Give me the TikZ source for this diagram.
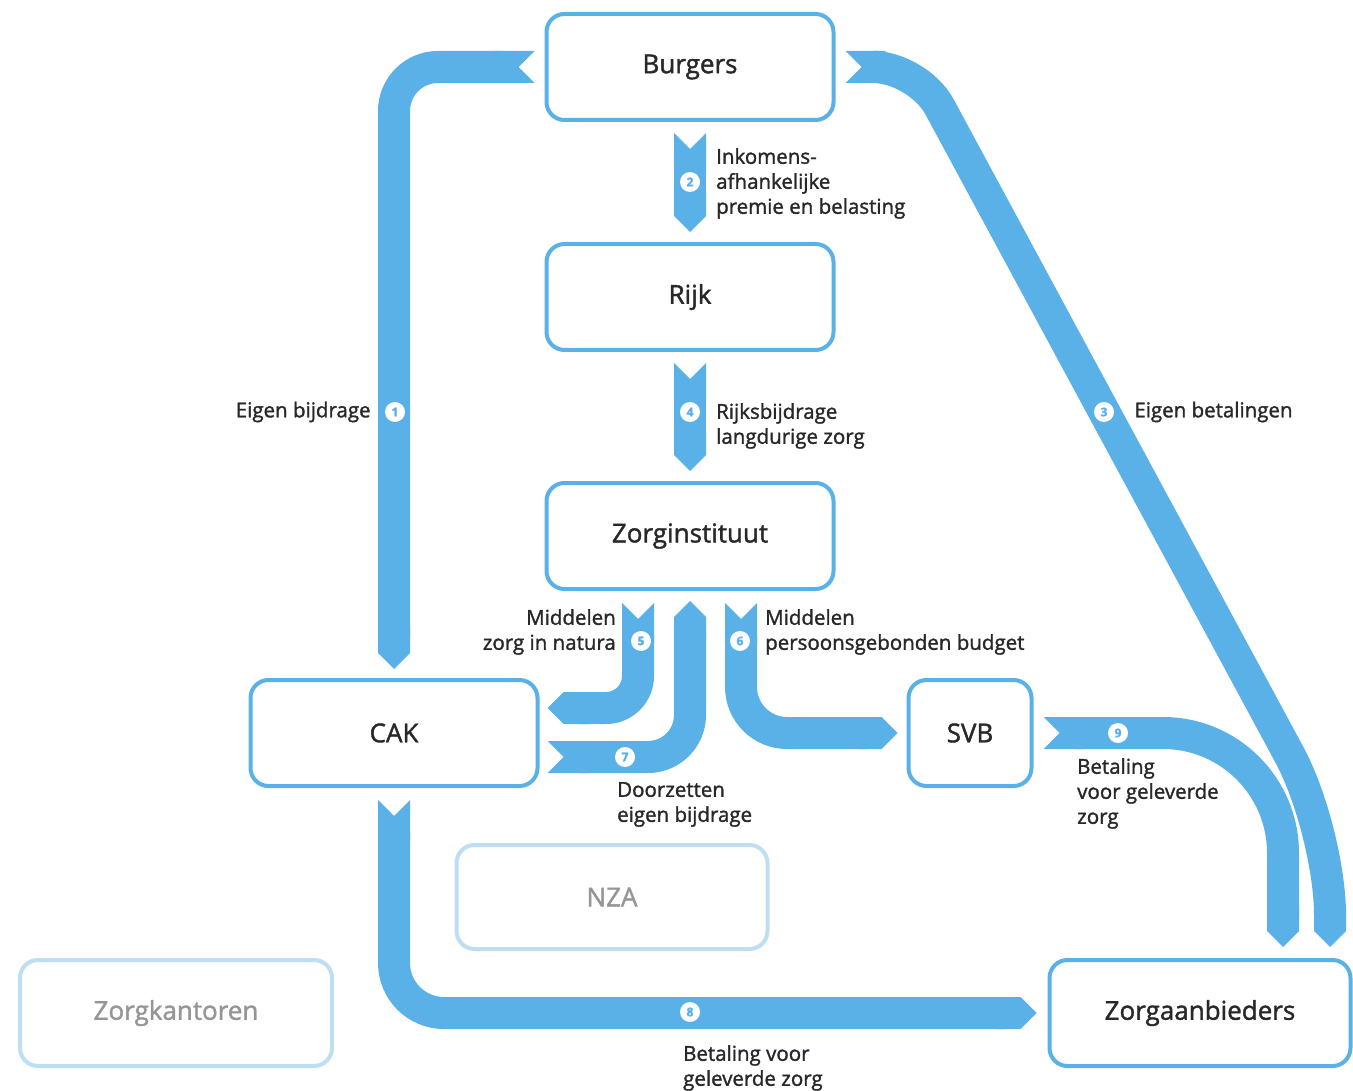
\documentclass[tikz,border=0pt]{standalone}
\usepackage{fontspec}
\setmainfont{Open Sans}[FakeBold=1.5]
\usetikzlibrary{positioning,calc,arrows.meta}

\definecolor{flowblue}{RGB}{90,177,231}
\definecolor{paleblue}{RGB}{190,222,244}
\definecolor{textdark}{RGB}{40,40,40}
\definecolor{textgrey}{RGB}{150,150,150}

\tikzset{
	box/.style={draw=flowblue, line width=4pt, rounded corners=18pt, fill=white,
		minimum width=287pt, minimum height=106pt, inner sep=0pt,
		text=textdark, font=\fontsize{26}{30}\selectfont},
	palebox/.style={box, draw=paleblue, text=textgrey},
	flow/.style={draw=flowblue, line width=32pt, {Triangle Cap[reversed]}-{Triangle Cap}},
	num/.style={circle, fill=white, minimum size=20pt, inner sep=0pt,
		text=flowblue, font=\fontsize{12}{12}\selectfont\bfseries},
	lbl/.style={text=textdark, align=left, inner sep=0pt, font=\fontsize{20.5}{25}\selectfont},
}

\begin{document}
\begin{tikzpicture}[x=1pt, y=-1pt]
	\useasboundingbox (0,0) rectangle (1353,1091);
	% Nodes
	% Actors on the money chain
	\node[box] (burgers) at (690,67) {Burgers};
	\node[box, below=120pt of burgers] (rijk) {Rijk};
	\node[box, below=129pt of rijk] (zorginst) {Zorginstituut};
	% Executing bodies
	\node[box, below=87pt of zorginst, xshift=-296pt] (cak) {CAK};
	\node[box, below=87pt of zorginst, xshift=280pt, minimum width=123pt] (svb) {SVB};
	% Care providers
	\node[box, below=170pt of svb, xshift=230pt, minimum width=301pt] (zorgaanb) {Zorgaanbieders};
	% Bodies outside the flows
	\node[palebox, below=55pt of cak, xshift=218pt, minimum width=311pt, minimum height=104pt] (nza) {NZA};
	\node[palebox, below=170pt of cak, xshift=-218pt, minimum width=312pt] (zorgkant) {Zorgkantoren};

	% Bend points of flow 3
	\coordinate (j3) at (918,67);
	\coordinate (k3) at (1330,830);

	% Edges
	% Eigen bijdrage to CAK
	\draw[flow, rounded corners=44pt] ($(burgers.west)+(-10,0)$) -| ($(cak.north)+(0,-9)$);
	% Premie and belasting to Rijk
	\draw[flow] ($(burgers.south)+(0,11)$) -- ($(rijk.north)+(0,-10)$);
	% Eigen betalingen to providers
	\draw[flow, rounded corners=45pt] ($(burgers.east)+(10,0)$) -- (j3)
		[rounded corners=85pt] -- (k3) -- ($(zorgaanb.north)+(130,-11)$);
	% Rijksbijdrage
	\draw[flow] ($(rijk.south)+(0,11)$) -- ($(zorginst.north)+(0,-10)$);
	% Zorg in natura to CAK
	\draw[flow, rounded corners=32pt] ($(zorginst.south)+(-52,12)$) |- ($(cak.east)+(8,-25)$);
	% Eigen bijdrage back to Zorginstituut
	\draw[flow, rounded corners=42pt] ($(cak.east)+(8,24)$) -| ($(zorginst.south)+(0,10)$);
	% Pgb to SVB
	\draw[flow, rounded corners=46pt] ($(zorginst.south)+(51,12)$) |- ($(svb.west)+(-9,0)$);
	% CAK pays providers
	\draw[flow, rounded corners=50pt] ($(cak.south)+(0,12)$) |- ($(zorgaanb.west)+(-11,0)$);
	% SVB pays providers
	\draw[flow, rounded corners=120pt] ($(svb.east)+(10,0)$) -| ($(zorgaanb.north)+(83,-11)$);

	% Step numbers
	\node[num] (n1) at (395,412) {1};
	\node[num] (n2) at (690,182) {2};
	\node[num] (n3) at (1104,412) {3};
	\node[num] (n4) at (690,412) {4};
	\node[num] (n5) at (641,641) {5};
	\node[num] (n6) at (740,641) {6};
	\node[num] (n7) at (625,757) {7};
	\node[num] (n8) at (690,1012) {8};
	\node[num] (n9) at (1118,733) {9};

	% Labels
	\node[lbl, left=14pt of n1] (l1) {Eigen bijdrage};
	\node[lbl, anchor=north west] (l2) at ($(n2)+(26,-34)$) {Inkomens-\\afhankelijke\\premie en belasting};
	\node[lbl, right=20pt of n3] (l3) {Eigen betalingen};
	\node[lbl, anchor=north west] (l4) at ($(n4)+(26,-9)$) {Rijksbijdrage\\langdurige zorg};
	\node[lbl, align=right, anchor=north east] (l5) at ($(n5)+(-25,-32)$) {Middelen\\zorg in natura};
	\node[lbl, anchor=north west] (l6) at ($(n6)+(25,-32)$) {Middelen\\persoonsgebonden budget};
	\node[lbl, anchor=north west] (l7) at ($(n7)+(-8,25)$) {Doorzetten\\eigen bijdrage};
	\node[lbl, anchor=north west] (l8) at ($(n8)+(-7,33)$) {Betaling voor\\geleverde zorg};
	\node[lbl, anchor=north west] (l9) at ($(n9)+(-41,25)$) {Betaling\\voor geleverde\\zorg};
\end{tikzpicture}
\end{document}
